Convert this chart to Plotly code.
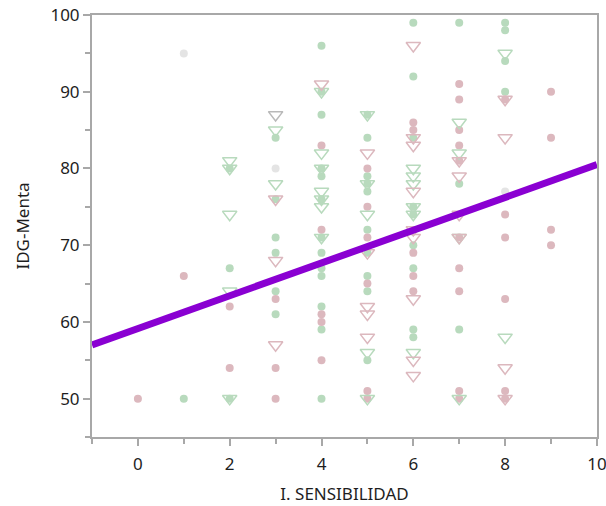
import plotly.graph_objects as go

# ---- data ----
green_circ_x = [1, 2, 2, 2, 3, 3, 3, 3, 3, 3,
                4, 4, 4, 4, 4, 4, 4, 4, 4, 4, 4, 4, 4,
                5, 5, 5, 5, 5, 5, 5, 5, 5, 5,
                6, 6, 6, 6, 6, 6, 6, 6, 6,
                7, 7, 7,
                8, 8, 8, 8]
green_circ_y = [50, 80, 67, 50, 84, 76, 71, 69, 64, 61,
                96, 90, 87, 80, 79, 76, 71, 69, 67, 66, 62, 59, 50,
                87, 84, 79, 78, 77, 72, 69, 66, 64, 55,
                99, 92, 84, 75, 74, 70, 67, 59, 58,
                99, 78, 59,
                99, 98, 94, 90]

pink_circ_x = [0, 1, 2, 2, 3, 3, 3,
               4, 4, 4, 4, 4,
               5, 5, 5, 5, 5, 5,
               6, 6, 6, 6, 6,
               7, 7, 7, 7, 7, 7, 7, 7, 7, 7,
               8, 8, 8, 8, 8, 8,
               9, 9, 9, 9]
pink_circ_y = [50, 66, 62, 54, 63, 54, 50,
               83, 72, 61, 60, 55,
               80, 75, 71, 65, 51, 50,
               86, 85, 69, 66, 64,
               91, 89, 85, 83, 81, 71, 67, 64, 51, 50,
               89, 74, 71, 63, 51, 50,
               90, 84, 72, 70]

gray_circ_x = [1, 3, 8]
gray_circ_y = [95, 80, 77]

green_tri_x = [2, 2, 2, 2, 2, 3, 3,
               4, 4, 4, 4, 4, 4, 4,
               5, 5, 5, 5, 5,
               6, 6, 6, 6, 6, 6,
               7, 7, 7, 7,
               8, 8]
green_tri_y = [81, 80, 74, 64, 50, 85, 78,
               90, 82, 80, 77, 76, 75, 71,
               87, 78, 74, 56, 50,
               80, 79, 78, 75, 74, 56,
               86, 82, 71, 50,
               95, 58]

pink_tri_x = [3, 3, 3, 4,
              5, 5, 5, 5, 5,
              6, 6, 6, 6, 6, 6, 6, 6, 6,
              7, 7, 7, 7,
              8, 8, 8, 8]
pink_tri_y = [76, 68, 57, 91,
              82, 69, 62, 61, 58,
              96, 84, 83, 77, 72, 71, 63, 55, 53,
              81, 79, 74, 71,
              89, 84, 54, 50]

gray_tri_x = [3]
gray_tri_y = [87]

fit_intercept = 59.14
fit_slope = 2.136
fit_x = [-1, 10]

x_ticks = [0, 2, 4, 6, 8, 10]
y_ticks = [50, 60, 70, 80, 90, 100]

# ---- styles ----
GREEN = "rgb(184,218,189)"
PINK = "rgb(220,184,190)"
GRAY_C = "rgb(228,228,228)"
GRAY_T = "rgb(185,185,185)"
PURPLE = "rgb(138,0,210)"
AXIS = "#a8a8a8"
FONT = "Noto Sans"
TXT = "#1e1e1e"

fig = go.Figure()


def circ(x, y, color):
    fig.add_trace(go.Scatter(x=x, y=y, mode="markers",
                             marker=dict(symbol="circle", size=8, color=color),
                             showlegend=False, hoverinfo="skip"))


def tri(x, y, color):
    fig.add_trace(go.Scatter(x=x, y=y, mode="markers",
                             marker=dict(symbol="triangle-down-open", size=12.5,
                                         color=color, line=dict(width=1.5, color=color)),
                             showlegend=False, hoverinfo="skip"))


circ(gray_circ_x, gray_circ_y, GRAY_C)
circ(green_circ_x, green_circ_y, GREEN)
circ(pink_circ_x, pink_circ_y, PINK)
tri(gray_tri_x, gray_tri_y, GRAY_T)
tri(green_tri_x, green_tri_y, GREEN)
tri(pink_tri_x, pink_tri_y, PINK)

fit_y = [fit_intercept + fit_slope * v for v in fit_x]
fig.add_trace(go.Scatter(x=fit_x, y=fit_y, mode="lines",
                         line=dict(color=PURPLE, width=7),
                         showlegend=False, hoverinfo="skip", cliponaxis=True))

axis_common = dict(
    showgrid=False, zeroline=False, showline=True, linecolor=AXIS, linewidth=2,
    mirror=True, ticks="outside", ticklen=7, tickwidth=1.5, tickcolor=AXIS,
    tickfont=dict(family=FONT, size=17, color=TXT),
    ticklabeloverflow="allow",
    automargin=False,
)

fig.update_layout(
    width=606, height=506,
    margin=dict(l=92, r=9, t=15, b=69),
    paper_bgcolor="white", plot_bgcolor="white",
    showlegend=False,
    xaxis=dict(range=[-1, 10.002], tickvals=x_ticks, ticklabelstandoff=4,
               minor=dict(dtick=1, tick0=0, ticks="outside", ticklen=5, tickcolor=AXIS, tickwidth=1.5),
               title=dict(text="I. SENSIBILIDAD", font=dict(family=FONT, size=17, color=TXT), standoff=14),
               **axis_common),
    yaxis=dict(range=[45, 100.002], tickvals=y_ticks,
               minor=dict(dtick=5, tick0=0, ticks="outside", ticklen=5, tickcolor=AXIS, tickwidth=1.5),
               title=dict(text="IDG-Menta", font=dict(family=FONT, size=17, color=TXT), standoff=16),
               **axis_common),
)

fig.write_html("out.html")
